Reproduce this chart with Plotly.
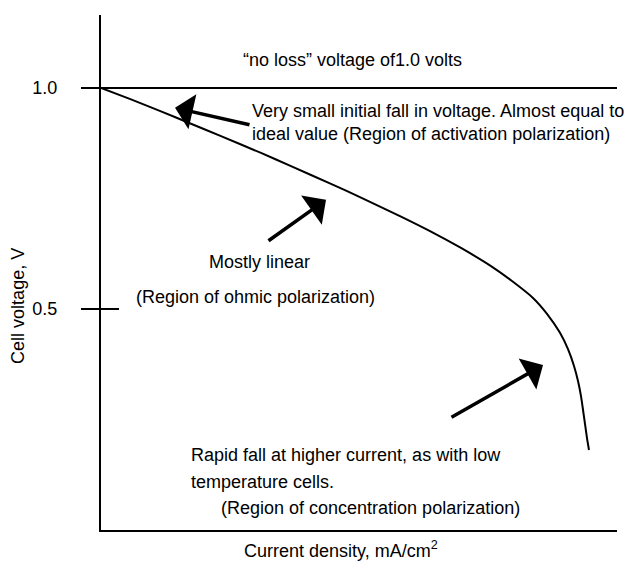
import plotly.graph_objects as go

# Polarization curve (arbitrary current-density units, cell voltage in V)
current = [0.0, 0.06, 0.12, 0.18, 0.24, 0.32, 0.38, 0.46, 0.52, 0.60, 0.66, 0.72,
           0.78, 0.82, 0.864, 0.892, 0.918, 0.934, 0.946, 0.954, 0.960, 0.964,
           0.968, 0.972, 0.976]
voltage = [1.0, 0.974, 0.947, 0.919, 0.891, 0.853, 0.823, 0.783, 0.752, 0.709, 0.675,
           0.638, 0.597, 0.565, 0.525, 0.489, 0.446, 0.409, 0.371, 0.337, 0.303,
           0.272, 0.240, 0.208, 0.181]

ideal_voltage = 1.0
tick_values = [0.5, 1.0]
tick_labels = ["0.5", "1.0"]

FONT = "Liberation Sans, Arial, sans-serif"
FS = 18

X_MAX = 1.032
Y_MAX = 1.165

fig = go.Figure()
fig.add_trace(go.Scatter(x=current, y=voltage, mode="lines",
                         line=dict(color="black", width=2, shape="spline", smoothing=0.6),
                         hoverinfo="skip", showlegend=False))

# ideal voltage line and inner halves of ticks
fig.add_shape(type="line", xref="paper", yref="y", x0=0, x1=1, y0=ideal_voltage, y1=ideal_voltage,
              line=dict(color="black", width=2))
fig.add_shape(type="line", xref="paper", yref="y", x0=0, x1=18 / 516, y0=0.5, y1=0.5,
              line=dict(color="black", width=2))

texts = [
    dict(text="\u201cno loss\u201d voltage of1.0 volts", x=0.502, y=1.063, xanchor="center"),
    dict(text="Very small initial fall in voltage. Almost equal to<br>ideal value (Region of activation polarization)",
         x=0.297, y=0.922, xanchor="left"),
    dict(text="Mostly linear", x=0.212, y=0.606, xanchor="left"),
    dict(text="(Region of ohmic polarization)", x=0.066, y=0.527, xanchor="left"),
    dict(text="Rapid fall at higher current, as with low", x=0.176, y=0.170, xanchor="left"),
    dict(text="temperature cells.", x=0.176, y=0.109, xanchor="left"),
    dict(text="(Region of concentration polarization)", x=0.236, y=0.050, xanchor="left"),
]
for t in texts:
    fig.add_annotation(text=t["text"], x=t["x"], y=t["y"], xref="x", yref="y",
                       xanchor=t["xanchor"], yanchor="middle", align="left",
                       showarrow=False, font=dict(family=FONT, size=FS, color="black"))

# axis titles (paper coordinates so they can sit outside the plot area)
fig.add_annotation(text="Current density, mA/cm<sup>2</sup>", x=0.274, y=-0.037,
                   xref="paper", yref="paper", xanchor="left", yanchor="middle",
                   showarrow=False, font=dict(family=FONT, size=FS, color="black"))
fig.add_annotation(text="Cell voltage, V", x=-0.161, y=0.435, xref="paper", yref="paper",
                   textangle=-90, showarrow=False, xanchor="center", yanchor="middle",
                   font=dict(family=FONT, size=FS, color="black"))

arrows = [
    ((0.30, 0.916), (0.148, 0.955)),
    ((0.332, 0.652), (0.450, 0.747)),
    ((0.698, 0.253), (0.884, 0.373)),
]
for (tx, ty), (hx, hy) in arrows:
    fig.add_annotation(text="", x=hx, y=hy, ax=tx, ay=ty, xref="x", yref="y",
                       axref="x", ayref="y", showarrow=True, arrowhead=1,
                       arrowsize=1.7, arrowwidth=3.5, arrowcolor="black", standoff=0)

fig.update_layout(
    width=629, height=555,
    margin=dict(l=93, r=20, t=7, b=33),
    paper_bgcolor="white", plot_bgcolor="white",
    showlegend=False,
    xaxis=dict(range=[0, X_MAX], showline=True, linecolor="black", linewidth=2,
               showgrid=False, zeroline=False, showticklabels=False, ticks=""),
    yaxis=dict(range=[0, Y_MAX], showline=True, linecolor="black", linewidth=2,
               showgrid=False, zeroline=False, tickvals=tick_values, ticktext=tick_labels,
               ticks="outside", ticklen=18, tickwidth=2, tickcolor="black",
               ticklabelstandoff=20,
               tickfont=dict(family=FONT, size=FS, color="black")),
)

fig.write_html("out.html")
